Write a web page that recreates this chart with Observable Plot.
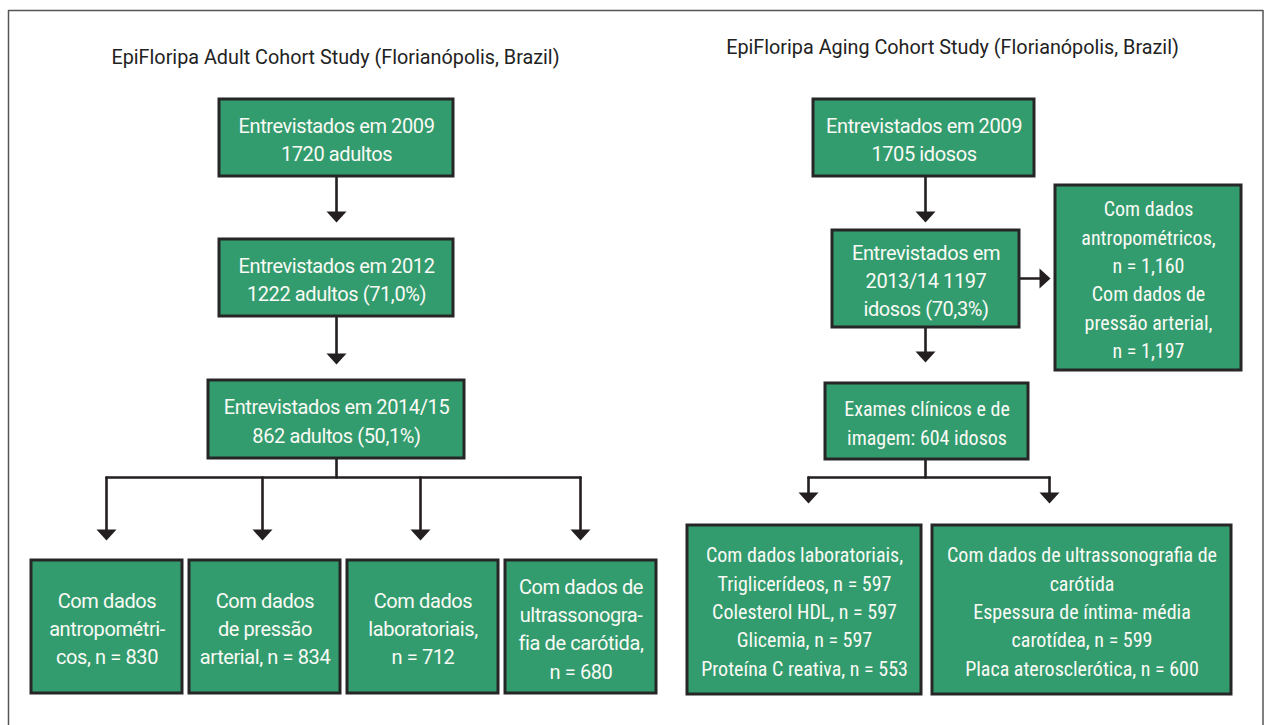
<!DOCTYPE html>
<html><head><meta charset="utf-8">
<script src="https://cdn.jsdelivr.net/npm/d3@7"></script>
<script src="https://cdn.jsdelivr.net/npm/@observablehq/plot@0.6"></script>
<style>html,body{margin:0;padding:0;background:#fff;overflow:hidden}</style>
</head><body><div id="chart"></div>
<script>
// ---------- content ----------
const titles = [
  "EpiFloripa Adult Cohort Study (Florianópolis, Brazil)",
  "EpiFloripa Aging Cohort Study (Florianópolis, Brazil)"
];
const adultStages = [
  "Entrevistados em 2009\n1720 adultos",
  "Entrevistados em 2012\n1222 adultos (71,0%)",
  "Entrevistados em 2014/15\n862 adultos (50,1%)"
];
const adultOutcomes = [
  "Com dados\nantropométri-\ncos, n = 830",
  "Com dados\nde pressão\narterial, n = 834",
  "Com dados\nlaboratoriais,\nn = 712",
  "Com dados de\nultrassonogra-\nfia de carótida,\nn = 680"
];
const agingStages = [
  "Entrevistados em 2009\n1705 idosos",
  "Entrevistados em\n2013/14 1197\nidosos (70,3%)",
  "Exames clínicos e de\nimagem: 604 idosos"
];
const agingSide = [
  "Com dados\nantropométricos,\nn = 1,160\nCom dados de\npressão arterial,\nn = 1,197"
];
const agingOutcomes = [
  "Com dados laboratoriais,\nTriglicerídeos, n = 597\nColesterol HDL, n = 597\nGlicemia, n = 597\nProteína C reativa, n = 553",
  "Com dados de ultrassonografia de\ncarótida\nEspessura de íntima- média\ncarotídea, n = 599\nPlaca aterosclerótica, n = 600"
];

// ---------- layout (pixel space) ----------
const L = {
  titles: [[335, 57], [952, 47]],
  adultStages: [[219,453,99,176],[219,453,239,316],[208,464,380,458]],
  adultOutcomes: [[31,182,560,693],[189,340,560,693],[347,498,560,693],[505,656,560,693]],
  agingStages: [[813,1034,99,176],[832,1019,230,327],[825,1028,383,459]],
  agingSide: [[1055,1241,185,370]],
  agingOutcomes: [[687,921,525,694],[932,1231,525,694]]
};
// text width style per box group: "n" = normal, "c" = narrower
const narrow = {agingStages: [false, false, true], agingSide: [true], agingOutcomes: [true, true]};
// connector paths: list of points, last point = arrow tip
const paths = [
  {dir:"down", pts:[[336,176],[336,222]]},
  {dir:"down", pts:[[336,316],[336,364]]},
  {dir:"down", pts:[[925,176],[925,222]]},
  {dir:"down", pts:[[925,327],[925,362]]},
  {dir:"right", pts:[[1019,278],[1050,278]]}
];
const fans = [
  {from:[336,458], y:477, xs:[106,262,420,580], tip:540},
  {from:[925,459], y:477, xs:[808,1049], tip:503}
];

// ---------- build tables ----------
const boxes = [];
function addBoxes(labels, key) {
  labels.forEach((t, i) => {
    const [x1,x2,y1,y2] = L[key][i];
    const nar = narrow[key] ? narrow[key][i] : false;
    boxes.push({label: t, x1, x2, y1, y2, cx: (x1+x2)/2, cy: (y1+y2)/2, nar});
  });
}
addBoxes(adultStages, "adultStages");
addBoxes(adultOutcomes, "adultOutcomes");
addBoxes(agingStages, "agingStages");
addBoxes(agingSide, "agingSide");
addBoxes(agingOutcomes, "agingOutcomes");

const HEAD = 11;
const lineRows = [], heads = [];
let pid = 0;
function addPath(pts, dir) {
  const id = pid++;
  const tip = pts[pts.length-1];
  const body = pts.slice(0, -1).map(p => p.slice());
  const end = dir === "down" ? [tip[0], tip[1]-HEAD+1] : [tip[0]-HEAD+1, tip[1]];
  body.push(end);
  body.forEach(([x,y]) => lineRows.push({id, x, y}));
  heads.push({x: dir === "down" ? tip[0] : tip[0]-HEAD/2, y: dir === "down" ? tip[1]-HEAD/2 : tip[1], rot: dir === "down" ? 0 : -90});
}
paths.forEach(p => addPath(p.pts, p.dir));
fans.forEach(f => {
  lineRows.push({id: pid, x: f.from[0], y: f.from[1]}, {id: pid, x: f.from[0], y: f.y}); pid++;
  lineRows.push({id: pid, x: f.xs[0], y: f.y}, {id: pid, x: f.xs[f.xs.length-1], y: f.y}); pid++;
  f.xs.forEach(x => addPath([[x, f.y],[x, f.tip]], "down"));
});

const frameRows = [[8,740],[8,10],[1262.5,10],[1262.5,740]].map(([x,y]) => ({x,y}));
const titleRows = titles.map((t,i) => ({t, x: L.titles[i][0], y: L.titles[i][1]}));

const tri = {draw(ctx) { ctx.moveTo(-10,-HEAD/2); ctx.lineTo(10,-HEAD/2); ctx.lineTo(0,HEAD/2); ctx.closePath(); }};

const INK = "#231f20";
const TXT = "#fafaf5";

const chart = Plot.plot({
  width: 1264, height: 725, margin: 0,
  x: {domain: [0,1264], range: [0,1264], axis: null},
  y: {domain: [0,725], range: [0,725], axis: null},
  style: "background:#fff;font-family:Roboto,sans-serif;overflow:visible",
  marks: [
    Plot.line(frameRows, {x: "x", y: "y", stroke: "#555", strokeWidth: 1.5}),
    Plot.text(titleRows, {x: "x", y: "y", text: "t", fontSize: 19.8, fill: "#222"}),
    Plot.line(lineRows, {x: "x", y: "y", z: "id", stroke: INK, strokeWidth: 2.6, curve: "linear"}),
    Plot.dot(heads, {x: "x", y: "y", symbol: tri, rotate: "rot", fill: INK, stroke: "none"}),
    Plot.rect(boxes, {x1: "x1", x2: "x2", y1: "y1", y2: "y2", fill: "#339c6f", stroke: "#262626", strokeWidth: 3}),
    Plot.text(boxes.filter(d => !d.nar), {x: "cx", y: "cy", text: "label", fill: TXT, fontSize: 20, lineHeight: 1.42}),
    Plot.text(boxes.filter(d => d.nar), {x: "cx", y: "cy", text: "label", fill: TXT, fontSize: 20, lineHeight: 1.42})
  ]
});
const tg = chart.querySelectorAll('g[aria-label="text"]');
if (tg[1]) tg[1].setAttribute("style", "letter-spacing:-0.4px");
if (tg[2]) tg[2].setAttribute("style", "font-stretch:87.5%");
document.getElementById("chart").appendChild(chart);
</script>
</body></html>
